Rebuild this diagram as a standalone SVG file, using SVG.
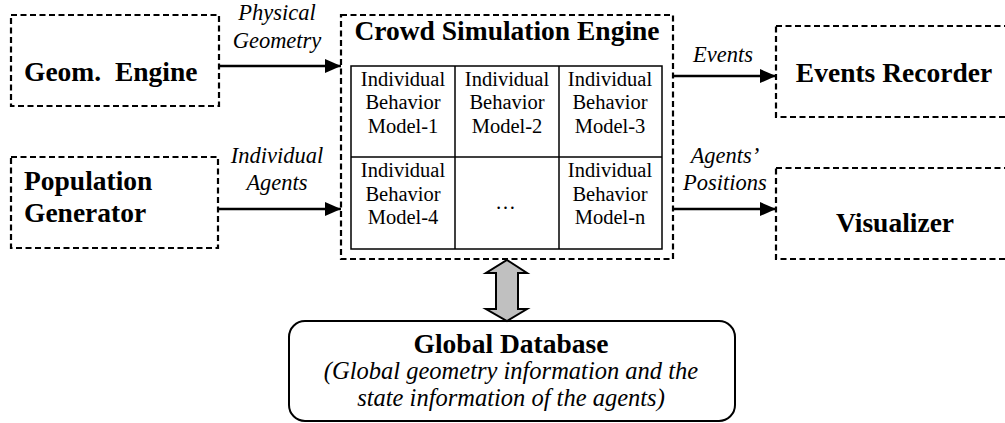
<svg xmlns="http://www.w3.org/2000/svg" width="1005" height="423" viewBox="0 0 1005 423">
<defs>
<style>
.dash{fill:none;stroke:#000;stroke-width:2.2;stroke-dasharray:6 3.5}
text{font-family:'Liberation Serif','Times New Roman','DejaVu Serif',serif;fill:#000;white-space:pre}
.b{font-weight:bold;font-size:27.5px}
.r{font-size:20.5px;text-anchor:middle}
.i{font-style:italic;font-size:22.5px;text-anchor:middle}
.d{font-style:italic;font-size:24.5px;text-anchor:middle}
.ln{stroke:#000;stroke-width:2.5;fill:none}
.cell{stroke:#000;stroke-width:1.5;fill:none}
</style>
<marker id="ahb" markerWidth="16" markerHeight="14" refX="16" refY="7" orient="auto" markerUnits="userSpaceOnUse" viewBox="0 0 16 14">
<path d="M0,0 L16,7 L0,14 z" fill="#000"/>
</marker>
</defs>
<rect width="1005" height="423" fill="#fff"/>
<g id="geom-engine">
<rect class="dash" x="11" y="15" width="208" height="91"/>
<text class="b" x="24" y="81" xml:space="preserve">Geom.  Engine</text>
</g>
<g id="population-generator">
<rect class="dash" x="11" y="157" width="207" height="91"/>
<text class="b" x="24" y="190">Population</text>
<text class="b" x="24" y="222">Generator</text>
</g>
<g id="crowd-simulation-engine">
<rect class="dash" x="341" y="15" width="332" height="244"/>
<text class="b" x="507" y="40" text-anchor="middle">Crowd Simulation Engine</text>
<rect class="cell" x="351" y="66" width="311" height="183"/>
<line class="cell" x1="455" y1="66" x2="455" y2="249"/>
<line class="cell" x1="559" y1="66" x2="559" y2="249"/>
<line class="cell" x1="351" y1="157" x2="662" y2="157"/>
<g id="model-1"><text class="r" x="403" y="86">Individual</text><text class="r" x="403" y="109">Behavior</text><text class="r" x="403" y="133">Model-1</text></g>
<g id="model-2"><text class="r" x="507" y="86">Individual</text><text class="r" x="507" y="109">Behavior</text><text class="r" x="507" y="133">Model-2</text></g>
<g id="model-3"><text class="r" x="610" y="86">Individual</text><text class="r" x="610" y="109">Behavior</text><text class="r" x="610" y="133">Model-3</text></g>
<g id="model-4"><text class="r" x="403" y="177">Individual</text><text class="r" x="403" y="201">Behavior</text><text class="r" x="403" y="224">Model-4</text></g>
<g id="model-dots"><text class="r" x="507" y="209" letter-spacing="3">…</text></g>
<g id="model-n"><text class="r" x="610" y="177">Individual</text><text class="r" x="610" y="201">Behavior</text><text class="r" x="610" y="224">Model-n</text></g>
</g>
<g id="events-recorder">
<rect class="dash" x="776" y="26" width="240" height="91"/>
<text class="b" x="894" y="82" text-anchor="middle">Events Recorder</text>
</g>
<g id="visualizer">
<rect class="dash" x="776" y="168" width="240" height="91"/>
<text class="b" x="895" y="232" text-anchor="middle">Visualizer</text>
</g>
<g id="global-database">
<rect x="289" y="321" width="446" height="100" rx="16" ry="16" fill="#fff" stroke="#000" stroke-width="2"/>
<text class="b" x="511" y="353" text-anchor="middle">Global Database</text>
<text class="d" x="511" y="379">(Global geometry information and the</text>
<text class="d" x="511" y="406">state information of the agents)</text>
</g>
<g id="connectors">
<line class="ln" x1="219" y1="66" x2="341" y2="66" marker-end="url(#ahb)"/>
<line class="ln" x1="218" y1="209" x2="341" y2="209" marker-end="url(#ahb)"/>
<line class="ln" x1="673" y1="76" x2="776" y2="76" marker-end="url(#ahb)"/>
<line class="ln" x1="673" y1="209" x2="776" y2="209" marker-end="url(#ahb)"/>
<path d="M507,260 L527,273 L518,273 L518,309 L527,309 L507,321 L486,309 L496,309 L496,273 L486,273 Z" fill="#c0c0c0" stroke="#000" stroke-width="2" stroke-linejoin="miter"/>
<text class="i" x="277" y="20">Physical</text>
<text class="i" x="277" y="48">Geometry</text>
<text class="i" x="277" y="163">Individual</text>
<text class="i" x="277" y="190">Agents</text>
<text class="i" x="723" y="62">Events</text>
<text class="i" x="725" y="163">Agents’</text>
<text class="i" x="725" y="190">Positions</text>
</g>
</svg>
